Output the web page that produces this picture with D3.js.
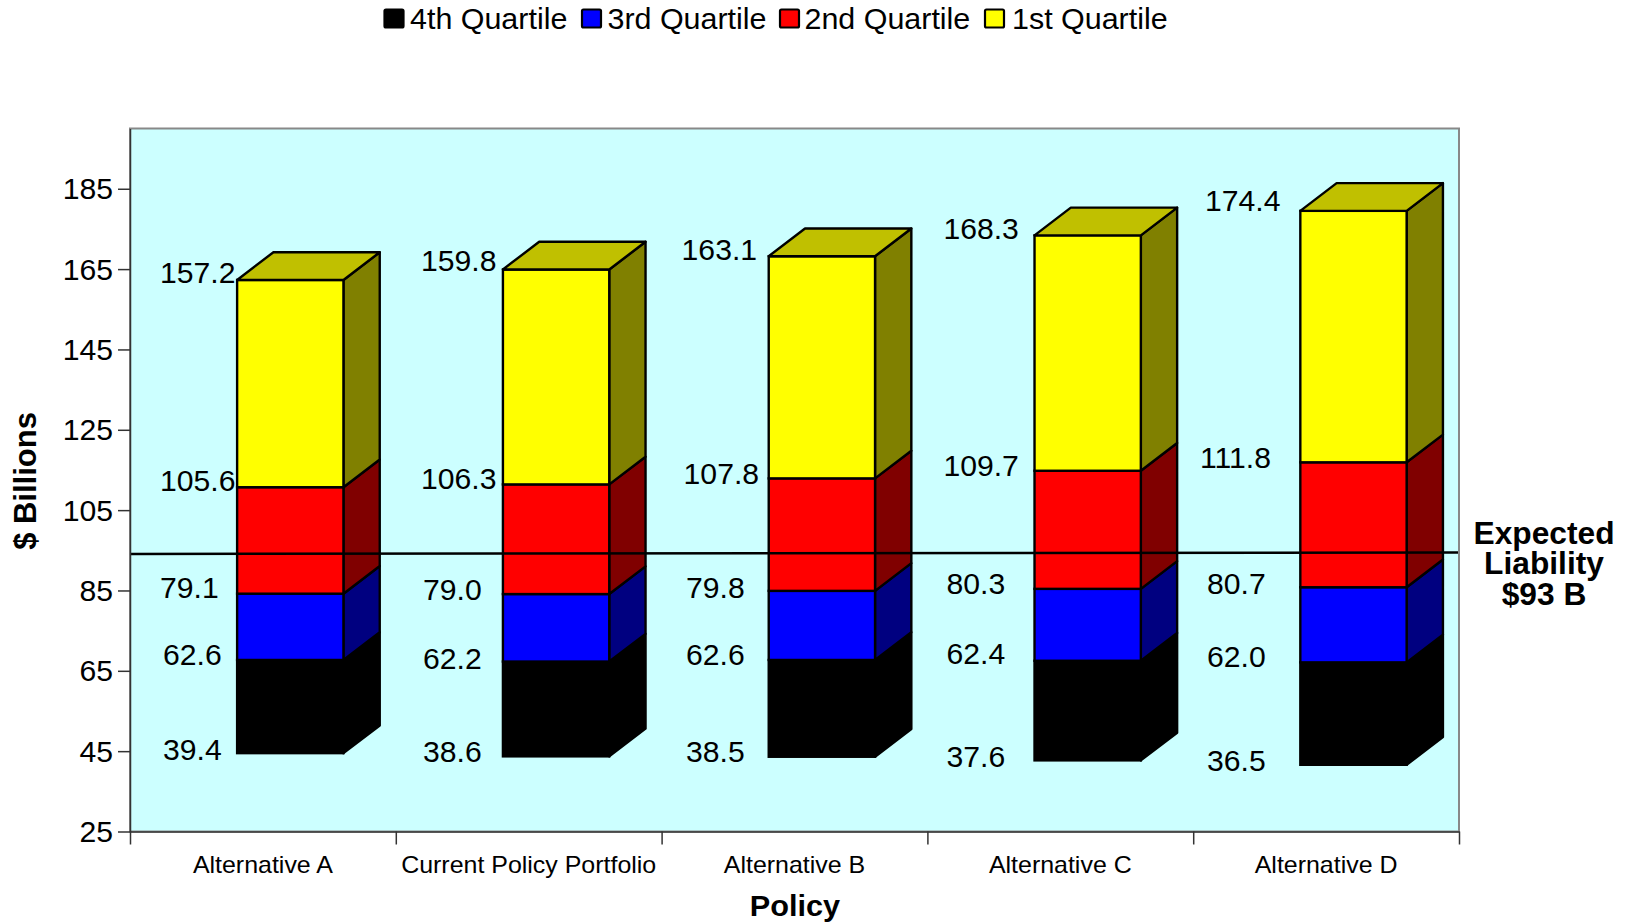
<!DOCTYPE html>
<html><head><meta charset="utf-8"><style>html,body{margin:0;padding:0;background:#fff}svg{display:block}text{font-family:"Liberation Sans",Arial,sans-serif;fill:#000}</style>
<script src="https://cdn.jsdelivr.net/npm/d3@7"></script></head><body><svg id="c" width="1629" height="922"></svg>
<script>
const categories=["Alternative A","Current Policy Portfolio","Alternative B","Alternative C","Alternative D"];
const floorValues=[39.4,38.6,38.5,37.6,36.5];
const q4Top=[62.6,62.2,62.6,62.4,62.0];
const q3Top=[79.1,79.0,79.8,80.3,80.7];
const q2Top=[105.6,106.3,107.8,109.7,111.8];
const q1Top=[157.2,159.8,163.1,168.3,174.4];
const yTicks=[25,45,65,85,105,125,145,165,185];
const legendLabels=["4th Quartile","3rd Quartile","2nd Quartile","1st Quartile"];
const expectedLiability=93;

const frontColors=["#000000","#0000ff","#ff0000","#ffff00"];
const sideColors=["#000000","#000080","#800000","#808000"];
const topColor="#c0c000";
const sx=1.04;
const L=130,R=1459,T=128.5,B=831.5;
const depthX=36.3,depthY=27.7,lift=20.5;
const svg=d3.select("#c");
const x=d3.scaleBand().domain(categories).range([L,R]);
const y=d3.scaleLinear().domain([25,200]).range([B,T]);
const edges=d3.scaleLinear().domain([0,5]).range([L,R]);
const w=x.bandwidth()*0.4, off=x.bandwidth()*0.4+0.8;

svg.append("rect").attr("x",L).attr("y",T).attr("width",R-L).attr("height",B-T).attr("fill","#ccffff").attr("stroke","#888").attr("stroke-width",2);

const levels=[floorValues,q4Top,q3Top,q2Top,q1Top];
categories.forEach((c,i)=>{
  const x0=x(c)+off,x1=x0+w;
  const g=svg.append("g");
  for(let s=0;s<4;s++){
    const yb=y(levels[s][i])-lift,yt=y(levels[s+1][i])-lift;
    g.append("path").attr("d",d3.line()([[x1,yt],[x1+depthX,yt-depthY],[x1+depthX,yb-depthY],[x1,yb]])+"Z")
      .attr("fill",sideColors[s]).attr("stroke","#000").attr("stroke-width",2.4).attr("stroke-linejoin","round");
    g.append("rect").attr("x",x0).attr("y",yt).attr("width",w).attr("height",yb-yt)
      .attr("fill",frontColors[s]).attr("stroke","#000").attr("stroke-width",2.4);
  }
  const yt=y(q1Top[i])-lift;
  g.append("path").attr("d",d3.line()([[x0,yt],[x0+depthX,yt-depthY],[x1+depthX,yt-depthY],[x1,yt]])+"Z")
    .attr("fill",topColor).attr("stroke","#000").attr("stroke-width",2.4).attr("stroke-linejoin","round");
});

// Liability reference line
svg.append("line").attr("x1",L).attr("x2",R-1).attr("y1",y(expectedLiability)-4.4).attr("y2",y(expectedLiability)-5.8)
  .attr("stroke","#000").attr("stroke-width",2.6);

// Data labels: hand-placed in the source, so they carry their own nudges
const labelLeft=[[163,423,686,946.5,1207],[163,423,686,946.5,1207],[160,423,686,946.5,1207],[160,421,683.6,943.4,1200],[160,421,681.6,943.4,1205]];
const labelDy=[[-24.2,-25.4,-25.8,-24,-24.2],[-25.4,-22.8,-25.4,-27.2,-25.7],[-26.7,-25.1,-23.9,-25.9,-24.2],[-27.2,-26.4,-24.6,-25.3,-25.1],[-27.6,-28.7,-26.9,-26.9,-30.3]];
function stretched(px,py,str,size,anchor,weight,k){
  return svg.append("text").attr("transform",`translate(${px},${py}) scale(${k||sx},1)`)
    .attr("font-size",size).attr("text-anchor",anchor||"start").attr("font-weight",weight||"normal").text(str);
}
levels.forEach((arr,l)=>arr.forEach((v,i)=>{
  stretched(labelLeft[l][i],y(v)+labelDy[l][i]+10.2,v.toFixed(1),29);
}));

// Axes
const ya=svg.append("g").attr("transform",`translate(${L},0)`).call(d3.axisLeft(y).tickValues(yTicks).tickSize(12).tickPadding(0).tickSizeOuter(0));
ya.select(".domain").attr("stroke","#333").attr("stroke-width",1.5);
ya.selectAll(".tick line").attr("stroke","#333").attr("stroke-width",1.5);
ya.selectAll(".tick text").attr("font-size",29).attr("font-family",'"Liberation Sans"').attr("fill","#000").attr("x",-17/sx).attr("dy",null).attr("y",10).attr("transform",`scale(${sx},1)`);
const xe=svg.append("g").attr("transform",`translate(0,${B})`).call(d3.axisBottom(edges).tickValues([0,1,2,3,4,5]).tickSize(13).tickFormat("").tickSizeOuter(0));
xe.select(".domain").attr("stroke","#333").attr("stroke-width",1.5);
xe.selectAll(".tick line").attr("stroke","#333").attr("stroke-width",1.5);
const xa=svg.append("g").attr("transform",`translate(0,${B})`).call(d3.axisBottom(x).tickSize(0).tickSizeOuter(0));
xa.select(".domain").remove();
xa.selectAll(".tick text").attr("font-size",24).attr("font-family",'"Liberation Sans"').attr("fill","#000").attr("y",42).attr("dy",null).attr("transform",`scale(1.04,1)`);

// Titles
stretched(795,915.5,"Policy",29.5,"middle","bold",1.04);
svg.append("text").attr("transform",`translate(36,481) rotate(-90) scale(1,1.04)`).attr("font-size",31).attr("font-weight","bold").attr("text-anchor","middle").text("$ Billions");
[["Expected",544],["Liability",574],["$93 B",605]].forEach(d=>stretched(1544,d[1],d[0],30.5,"middle","bold",1.04));

// Legend
const legendBox=[383.5,581,779,984];
const legendText=[410,607.5,804.5,1012];
legendLabels.forEach((t,i)=>{
  svg.append("rect").attr("x",legendBox[i]+1).attr("y",9.5).attr("width",19).attr("height",18).attr("rx",1.5).attr("fill",frontColors[i]).attr("stroke","#000").attr("stroke-width",2.2);
  stretched(legendText[i],29,t,29,"start","normal",1.05);
});
</script></body></html>
